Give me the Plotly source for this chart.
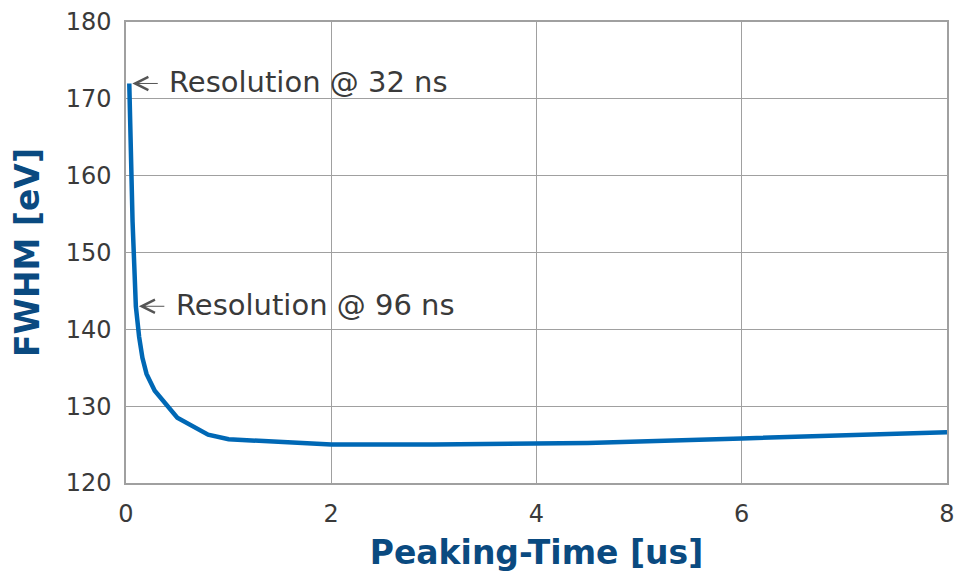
import plotly.graph_objects as go

# Energy resolution (FWHM) versus shaping peaking time
peaking_time_us = [0.032, 0.048, 0.064, 0.080, 0.096, 0.128, 0.16, 0.20, 0.28,
                   0.50, 0.80, 1.0, 2.0, 3.0, 4.0, 4.5, 6.0, 8.0]
fwhm_ev = [172.0, 160.0, 154.0, 148.5, 143.0, 139.0, 136.3, 134.2, 132.0,
           128.5, 126.3, 125.7, 125.0, 125.0, 125.15, 125.2, 125.8, 126.6]

x_ticks = [0, 2, 4, 6, 8]
y_ticks = [120, 130, 140, 150, 160, 170, 180]

note_x = [0.032, 0.096]
note_y = [172.0, 143.0]
note_text = ["Resolution @ 32 ns", "Resolution @ 96 ns"]

FONT = "DejaVu Sans"
TEXT_GREY = "#3a3a3a"
TITLE_BLUE = "#0a4a80"
LINE_BLUE = "#0068b5"
GRID = "#a0a0a0"

fig = go.Figure()
fig.add_trace(go.Scatter(
    x=peaking_time_us, y=fwhm_ev, mode="lines",
    line=dict(color=LINE_BLUE, width=4.5),
    hoverinfo="x+y", showlegend=False,
))

for nx, ny, nt in zip(note_x, note_y, note_text):
    # thin open-headed pointer back to the curve
    fig.add_annotation(
        x=nx, y=ny, text="", showarrow=True, axref="pixel", ayref="pixel",
        ax=30, ay=0, arrowhead=5, arrowsize=2.6, arrowwidth=1,
        arrowcolor="#555555", standoff=3,
    )
    fig.add_annotation(
        x=nx, y=ny, text=nt, showarrow=False,
        xanchor="left", yanchor="middle", xshift=38, yshift=1,
        font=dict(family=FONT, size=29, color=TEXT_GREY),
    )

fig.update_xaxes(
    range=[0, 8], tickvals=x_ticks, showgrid=True, gridcolor=GRID, gridwidth=1,
    showline=True, linecolor=GRID, linewidth=1.5, mirror=True, zeroline=False,
    automargin=False, ticks="", ticklabelstandoff=8,
    tickfont=dict(family=FONT, size=24, color=TEXT_GREY),
    title=dict(text="<b>Peaking-Time [us]</b>", standoff=14,
               font=dict(family=FONT, size=33, color=TITLE_BLUE)),
)
fig.update_yaxes(
    range=[120, 180], tickvals=y_ticks, showgrid=True, gridcolor=GRID, gridwidth=1,
    showline=True, linecolor=GRID, linewidth=1.5, mirror=True, zeroline=False,
    automargin=False, ticks="", ticklabelstandoff=8,
    tickfont=dict(family=FONT, size=24, color=TEXT_GREY),
    title=dict(text="<b>FWHM [eV]</b>", standoff=16,
               font=dict(family=FONT, size=33, color=TITLE_BLUE)),
)

fig.update_layout(
    width=959, height=577,
    margin=dict(l=126, r=12, t=22, b=94),
    paper_bgcolor="white", plot_bgcolor="white",
)

fig.write_html("out.html")
